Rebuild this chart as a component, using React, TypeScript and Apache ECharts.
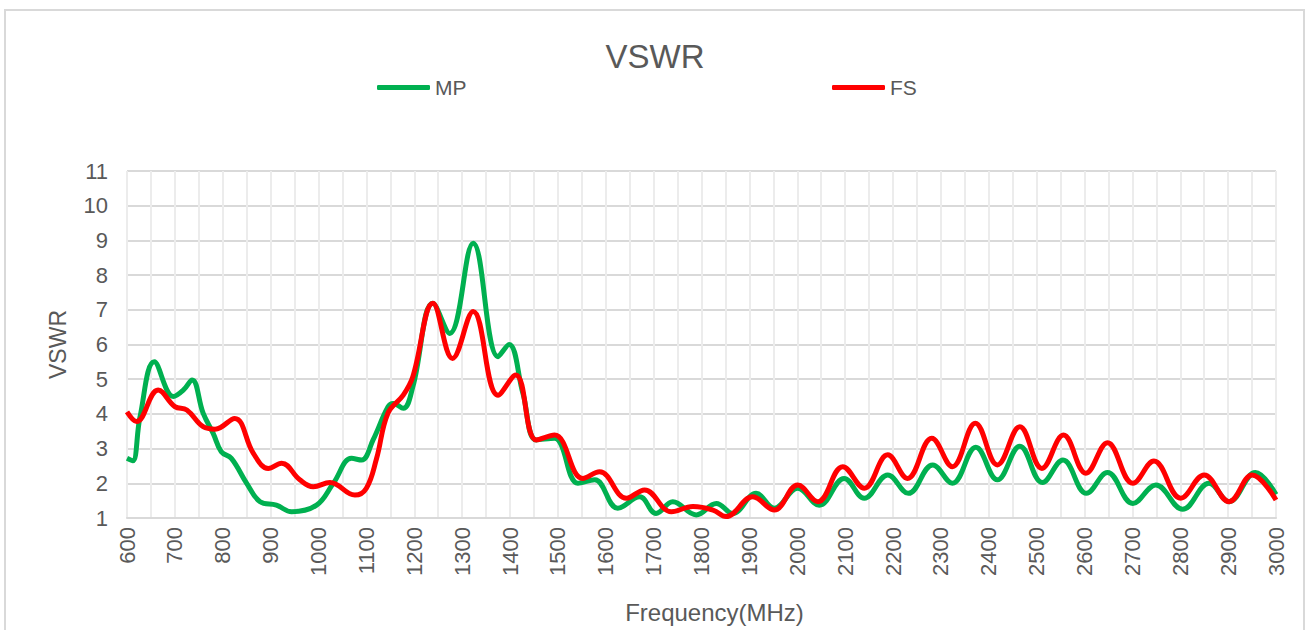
import React, { useEffect, useRef } from "react";
import * as echarts from "echarts";

const mpFreq = [600, 612, 627, 657, 697, 718, 736, 759, 780, 797, 818, 850, 878, 912, 944, 996, 1031, 1069, 1090, 1114, 1145, 1156, 1177, 1197, 1239, 1274, 1323, 1375, 1398, 1427, 1455, 1493, 1542, 1577, 1625, 1671, 1705, 1740, 1789, 1831, 1865, 1914, 1952, 2001, 2046, 2098, 2140, 2189, 2232, 2283, 2324, 2373, 2418, 2465, 2512, 2555, 2604, 2648, 2701, 2749, 2805, 2860, 2902, 2957, 3000];
const mpVals = [2.72, 2.65, 3.9, 5.5, 4.5, 4.69, 4.98, 4.02, 3.44, 2.91, 2.72, 2.0, 1.47, 1.37, 1.18, 1.37, 2.0, 2.72, 2.67, 3.25, 4.2, 4.3, 4.16, 4.78, 7.19, 6.32, 8.92, 5.65, 6.0, 4.59, 3.25, 3.3, 2.0, 2.1, 1.28, 1.61, 1.13, 1.47, 1.09, 1.42, 1.13, 1.71, 1.28, 1.86, 1.37, 2.14, 1.57, 2.24, 1.71, 2.53, 2.0, 3.04, 2.1, 3.07, 2.02, 2.67, 1.71, 2.31, 1.42, 1.95, 1.25, 2.0, 1.47, 2.31, 1.68];

const fsFreq = [600, 620, 665, 700, 725, 759, 784, 825, 864, 895, 923, 961, 989, 1024, 1076, 1100, 1121, 1145, 1177, 1197, 1239, 1280, 1323, 1375, 1412, 1455, 1493, 1552, 1587, 1643, 1681, 1737, 1782, 1824, 1851, 1907, 1952, 2001, 2043, 2095, 2140, 2189, 2230, 2281, 2324, 2372, 2418, 2465, 2511, 2556, 2603, 2648, 2701, 2745, 2801, 2850, 2902, 2950, 3000];
const fsVals = [4.06, 3.78, 4.69, 4.21, 4.11, 3.63, 3.56, 3.87, 2.86, 2.43, 2.58, 2.1, 1.9, 2.02, 1.66, 1.86, 2.7, 4.02, 4.54, 5.07, 7.19, 5.6, 6.95, 4.54, 5.12, 3.25, 3.39, 2.14, 2.33, 1.57, 1.81, 1.18, 1.33, 1.23, 1.04, 1.61, 1.23, 1.95, 1.47, 2.48, 1.86, 2.82, 2.14, 3.3, 2.48, 3.73, 2.53, 3.63, 2.43, 3.39, 2.29, 3.17, 2.0, 2.64, 1.57, 2.24, 1.47, 2.24, 1.52];

const seriesNames = ["MP", "FS"];
const seriesColors = ["#00B050", "#FF0000"];
const titleText = "VSWR";
const xName = "Frequency(MHz)";
const yName = "VSWR";

const FONT = "'Liberation Sans', Arial, sans-serif";
const TXT = "#595959";

export default function App() {
  const ref = useRef<HTMLDivElement>(null);
  useEffect(() => {
    if (!ref.current) return;
    const chart = echarts.init(ref.current, null, { renderer: "svg" });
    const mpData = mpFreq.map((f, i) => [f, mpVals[i]]);
    const fsData = fsFreq.map((f, i) => [f, fsVals[i]]);
    const legendBase = {
      top: 77,
      padding: 0,
      icon: "roundRect",
      itemWidth: 53,
      itemHeight: 5,
      itemGap: 0,
      textStyle: { fontFamily: FONT, fontSize: 21, color: TXT, padding: [0, 0, 0, 0] },
    };
    chart.setOption({
      animation: false,
      backgroundColor: "#ffffff",
      textStyle: { fontFamily: FONT },
      title: {
        text: titleText,
        left: 650,
        textAlign: "center",
        top: 35,
        textStyle: { fontFamily: FONT, fontSize: 33, fontWeight: "normal", color: TXT },
      },
      legend: [
        { ...legendBase, data: [seriesNames[0]], left: 377 },
        { ...legendBase, data: [seriesNames[1]], left: 832 },
      ],
      graphic: [
        {
          type: "rect",
          shape: { x: 5, y: 10, width: 1299, height: 700 },
          style: { fill: "none", stroke: "#d9d9d9", lineWidth: 2 },
          silent: true,
        },
      ],
      grid: { left: 127, right: 31, top: 171, bottom: 112, containLabel: false },
      xAxis: {
        type: "value",
        min: 600,
        max: 3000,
        interval: 100,
        name: xName,
        nameLocation: "middle",
        nameGap: 82,
        nameTextStyle: { fontFamily: FONT, fontSize: 24, color: TXT, padding: [0, 0, 0, 26] },
        axisLine: { show: true, lineStyle: { color: "#d9d9d9", width: 2 } },
        axisTick: { show: false },
        axisLabel: {
          rotate: 90,
          margin: 9,
          fontFamily: FONT,
          fontSize: 22,
          color: TXT,
          formatter: (v: number) => String(v),
        },
        splitLine: { show: true, lineStyle: { color: "#ececec", width: 2 } },
        minorTick: { show: false, splitNumber: 2 },
        minorSplitLine: { show: true, lineStyle: { color: "#ececec", width: 2 } },
      },
      yAxis: {
        type: "value",
        min: 1,
        max: 11,
        interval: 1,
        name: yName,
        nameLocation: "middle",
        nameRotate: 90,
        nameGap: 58,
        nameTextStyle: { fontFamily: FONT, fontSize: 23, color: TXT },
        axisLine: { show: false },
        axisTick: { show: false },
        axisLabel: { margin: 19, fontFamily: FONT, fontSize: 22, color: TXT },
        splitLine: { show: true, lineStyle: { color: "#d9d9d9", width: 2 } },
      },
      series: [
        {
          name: seriesNames[0],
          type: "line",
          data: mpData,
          smooth: 0.4,
          showSymbol: false,
          symbol: "none",
          lineStyle: { color: seriesColors[0], width: 5 },
          itemStyle: { color: seriesColors[0] },
          z: 2,
        },
        {
          name: seriesNames[1],
          type: "line",
          data: fsData,
          smooth: 0.4,
          showSymbol: false,
          symbol: "none",
          lineStyle: { color: seriesColors[1], width: 5 },
          itemStyle: { color: seriesColors[1] },
          z: 3,
        },
      ],
    });
    return () => chart.dispose();
  }, []);
  return (
    <div
      ref={ref}
      style={{ position: "absolute", left: 0, top: 0, width: 1307, height: 630 }}
    />
  );
}
